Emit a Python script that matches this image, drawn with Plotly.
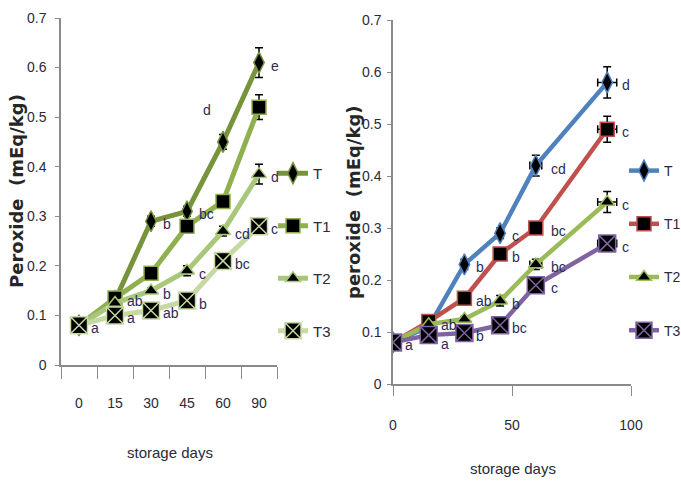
import plotly.graph_objects as go

# ---------------- data ----------------
days_cat = ["0", "15", "30", "45", "60", "90"]
days_num = [0, 15, 30, 45, 60, 90]
series_names = ["T", "T1", "T2", "T3"]

# left panel (category x axis)
left_T = [0.08, 0.13, 0.29, 0.31, 0.45, 0.61]
left_T1 = [0.08, 0.135, 0.185, 0.28, 0.33, 0.52]
left_T2 = [0.08, 0.125, 0.15, 0.19, 0.27, 0.385]
left_T3 = [0.08, 0.10, 0.11, 0.13, 0.21, 0.28]
left_err_T = [0, 0.005, 0.01, 0.01, 0.015, 0.03]
left_err_T1 = [0, 0.005, 0.01, 0.01, 0.01, 0.025]
left_err_T2 = [0, 0.005, 0.005, 0.01, 0.01, 0.02]
left_err_T3 = [0, 0.005, 0.005, 0.01, 0.01, 0.01]
left_lbl_T = ["a", "", "b", "bc", "d", "e"]
left_lbl_T1 = ["", "ab", "", "", "", ""]
left_lbl_T2 = ["", "", "b", "c", "cd", "d"]
left_lbl_T3 = ["", "a", "ab", "b", "bc", "c"]

# right panel (numeric x axis)
right_T = [0.08, 0.11, 0.23, 0.29, 0.42, 0.58]
right_T1 = [0.08, 0.12, 0.165, 0.25, 0.30, 0.49]
right_T2 = [0.08, 0.115, 0.125, 0.16, 0.23, 0.35]
right_T3 = [0.08, 0.094, 0.098, 0.113, 0.19, 0.27]
right_errx = [0, 1, 1, 1, 2.5, 4]
right_err_T = [0, 0.005, 0.01, 0.01, 0.02, 0.03]
right_err_T1 = [0, 0.005, 0.01, 0.01, 0.01, 0.025]
right_err_T2 = [0, 0.005, 0.005, 0.01, 0.01, 0.02]
right_err_T3 = [0, 0.005, 0.005, 0.01, 0.01, 0.01]
right_lbl_T = ["a", "", "b", "c", "cd", "d"]
right_lbl_T1 = ["", "ab", "ab", "b", "bc", "c"]
right_lbl_T2 = ["", "", "", "b", "bc", "c"]
right_lbl_T3 = ["", "a", "b", "bc", "c", "c"]

# ---------------- styles ----------------
left_colors = ["#77933C", "#8FB04E", "#A9C77A", "#C6D9A2"]
right_colors = ["#4F81BD", "#C0504D", "#9BBB59", "#8064A2"]
symbols = ["diamond-tall", "square", "triangle-up", "square-x"]
sizes = [15, 14, 13, 17]
FAM = "Liberation Sans Narrow, Liberation Sans, Arial"
tick_font = dict(family=FAM, size=14, color="#2a2a3a")
lbl_font = dict(family=FAM, size=14, color="#2B2B5A")

fig = go.Figure()

left_vals = [left_T, left_T1, left_T2, left_T3]
left_errs = [left_err_T, left_err_T1, left_err_T2, left_err_T3]
for i, name in enumerate(series_names):
    fig.add_trace(go.Scatter(
        x=days_cat, y=left_vals[i], name=name, mode="lines+markers",
        xaxis="x", yaxis="y", legend="legend", legendgroup="L" + name,
        line=dict(color=left_colors[i], width=5),
        marker=dict(symbol=symbols[i], size=sizes[i], color="black",
                    line=dict(color=left_colors[i], width=1.5)),
        error_y=dict(type="data", array=left_errs[i], color="black",
                     thickness=1.5, width=4),
    ))

right_vals = [right_T, right_T1, right_T2, right_T3]
right_errs = [right_err_T, right_err_T1, right_err_T2, right_err_T3]
for i, name in enumerate(series_names):
    fig.add_trace(go.Scatter(
        x=days_num, y=right_vals[i], name=name, mode="lines+markers",
        xaxis="x2", yaxis="y2", legend="legend2", legendgroup="R" + name,
        line=dict(color=right_colors[i], width=4.5),
        marker=dict(symbol=symbols[i], size=sizes[i], color="black",
                    line=dict(color=right_colors[i], width=1.5)),
        error_y=dict(type="data", array=right_errs[i], color="black",
                     thickness=1.5, width=4),
        error_x=dict(type="data", array=right_errx, color="black",
                     thickness=1.5, width=4),
    ))

# letter labels next to the points (category index used for left panel)
annotations = []
left_lbls = [left_lbl_T, left_lbl_T1, left_lbl_T2, left_lbl_T3]
for i in range(4):
    for j, t in enumerate(left_lbls[i]):
        if not t:
            continue
        xs, ys = 10, -3
        if i == 0 and j == 4:
            xs, ys = -22, 32
        annotations.append(dict(x=j, y=left_vals[i][j], xref="x", yref="y",
                                text=t, showarrow=False, xanchor="left", yanchor="middle",
                                xshift=xs, yshift=ys, font=lbl_font))
right_lbls = [right_lbl_T, right_lbl_T1, right_lbl_T2, right_lbl_T3]
for i in range(4):
    for j, t in enumerate(right_lbls[i]):
        if not t:
            continue
        xs = 13 if j >= 4 else 10
        ys = -9 if (i == 3 and j == 1) else -3
        annotations.append(dict(x=days_num[j], y=right_vals[i][j], xref="x2", yref="y2",
                                text=t, showarrow=False, xanchor="left", yanchor="middle",
                                xshift=xs, yshift=ys, font=lbl_font))

title_font = dict(family="DejaVu Sans", size=18, color="#262626")
annotations += [
    dict(x=17 / 681, y=1 - 191 / 482, xref="paper", yref="paper", text="<b>Peroxide  (mEq/kg)</b>",
         textangle=-90, showarrow=False, xanchor="center", yanchor="middle", font=title_font),
    dict(x=353 / 681, y=1 - 202 / 482, xref="paper", yref="paper", text="<b>peroxide  (mEq/kg)</b>",
         textangle=-90, showarrow=False, xanchor="center", yanchor="middle", font=title_font),
    dict(x=170 / 681, y=1 - 452 / 482, xref="paper", yref="paper", text="storage days",
         showarrow=False, xanchor="center", yanchor="middle", font=dict(tick_font, size=15)),
    dict(x=513 / 681, y=1 - 468 / 482, xref="paper", yref="paper", text="storage days",
         showarrow=False, xanchor="center", yanchor="middle", font=dict(tick_font, size=15)),
]

axis_common = dict(showgrid=False, zeroline=False, showline=True, linecolor="#8a8a8a",
                   linewidth=1.5, ticks="outside", tickcolor="#8a8a8a", tickfont=tick_font)

fig.update_layout(
    width=681, height=482, margin=dict(l=0, r=0, t=0, b=0, autoexpand=False),
    paper_bgcolor="white", plot_bgcolor="white",
    xaxis=dict(axis_common, domain=[61 / 681, 277 / 681], type="category",
               categoryorder="array", categoryarray=days_cat, range=[-0.5, 5.5],
               tickson="boundaries", ticklen=12, anchor="y", ticklabelstandoff=24),
    yaxis=dict(axis_common, domain=[1 - 365 / 482, 1 - 18 / 482], range=[0, 0.7],
               dtick=0.1, ticklen=4, anchor="x", ticklabelstandoff=6),
    xaxis2=dict(axis_common, domain=[393 / 681, 631 / 681], range=[0, 100],
                tickvals=[0, 50, 100], ticklen=10, anchor="y2", ticklabelstandoff=17),
    yaxis2=dict(axis_common, domain=[1 - 384 / 482, 1 - 20 / 482], range=[0, 0.7],
                dtick=0.1, ticklen=4, anchor="x2", ticklabelstandoff=3),
    legend=dict(x=273 / 681, y=1 - 157 / 482, xanchor="left", yanchor="top",
                bgcolor="rgba(0,0,0,0)", font=dict(tick_font, size=15), itemwidth=30,
                tracegroupgap=30),
    legend2=dict(x=624 / 681, y=1 - 155 / 482, xanchor="left", yanchor="top",
                 bgcolor="rgba(0,0,0,0)", font=dict(tick_font, size=14), itemwidth=30,
                 tracegroupgap=32),
    annotations=annotations,
)

fig.write_html("out.html")
